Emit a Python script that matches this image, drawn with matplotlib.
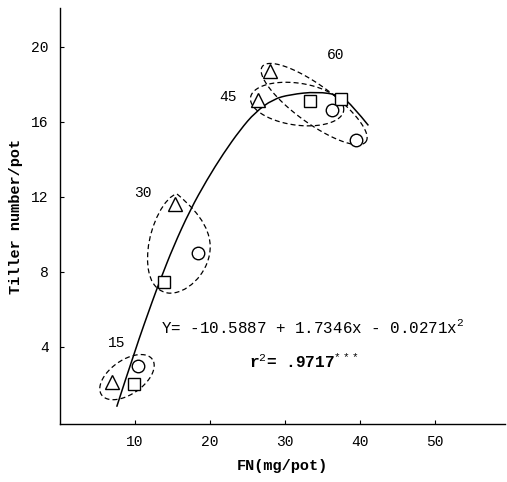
import matplotlib
matplotlib.use("Agg")
import matplotlib.pyplot as plt
from matplotlib.path import Path
from matplotlib.patches import PathPatch
import numpy as np

plt.rcParams['font.family'] = ['Liberation Mono', 'DejaVu Sans Mono']
plt.rcParams['mathtext.fontset'] = 'custom'
plt.rcParams['mathtext.rm'] = 'Liberation Mono'
plt.rcParams['mathtext.it'] = 'Liberation Mono'
plt.rcParams['mathtext.bf'] = 'Liberation Mono:bold'

# Data (FN mg/pot, tiller number/pot)
tri_x = [6.9, 15.3, 26.4, 28.0]
tri_y = [2.1, 11.6, 17.15, 18.7]
sq_x = [9.8, 13.8, 33.3, 37.4]
sq_y = [2.0, 7.45, 17.1, 17.2]
circ_x = [10.4, 18.4, 36.3, 39.5]
circ_y = [3.0, 9.0, 16.65, 15.05]

# fitted curve
curve_x = [7.56, 10.0, 12.44, 13.4, 15.1, 17.33, 19.56, 21.78, 24.0, 26.0, 28.4, 30.7, 34.2, 37.3, 39.1, 41.1]
curve_y = [0.80, 3.82, 6.58, 7.6, 9.33, 11.28, 12.89, 14.31, 15.56, 16.5, 17.2, 17.45, 17.6, 17.42, 16.8, 15.8]

group_labels = ['15', '30', '45', '60']
label_x = [7.56, 11.1, 22.4, 36.7]
label_y = [4.18, 12.2, 17.33, 19.56]

xticks = [10, 20, 30, 40, 50]
yticks = [4, 8, 12, 16, 20]

fig = plt.figure(figsize=(5.07, 4.82), dpi=100)
ax = fig.add_axes([0.1183, 0.1203, 0.8777, 0.863])
ax.set_xlim(0, 59.3)
ax.set_ylim(-0.12, 22.06)

# pixel scale of reference (px per data unit)
SX, SY = 7.5, 18.75
DASH = (0, (4, 2.5))

def px2d(px, py):
    return ((px - 60) / SX, (421.7 - py) / SY)

def dashed_ellipse(cx, cy, a, b, ang):
    t = np.linspace(0, 2 * np.pi, 200)
    r = np.deg2rad(ang)
    dx = a * np.cos(t) * np.cos(r) - b * np.sin(t) * np.sin(r)
    dy = a * np.cos(t) * np.sin(r) + b * np.sin(t) * np.cos(r)
    ax.plot(cx + dx / SX, cy + dy / SY, ls=DASH, color='black', lw=0.9)

dashed_ellipse(8.93, 2.38, 31, 17, 35)
dashed_ellipse(31.6, 16.94, 47, 21, -8)
dashed_ellipse(33.87, 16.94, 64, 19, -36)

# teardrop around the 30 group
pts_px = [(177, 194), (190, 205), (212, 225), (210, 250),
          (208, 275), (185, 295), (168, 293),
          (150, 290), (146, 270), (148, 250),
          (150, 225), (165, 196), (177, 194)]
verts = [px2d(*p) for p in pts_px]
codes = [Path.MOVETO] + [Path.CURVE4] * 12
ax.add_patch(PathPatch(Path(verts, codes), fill=False, ls=DASH, lw=0.9, color='black'))

# smooth rendering of the read curve (quadratic Bezier through midpoints)
cv = list(zip(curve_x, curve_y))
pverts = [cv[0]]
pcodes = [Path.MOVETO]
for i in range(1, len(cv) - 1):
    mid = ((cv[i][0] + cv[i + 1][0]) / 2, (cv[i][1] + cv[i + 1][1]) / 2)
    if i == len(cv) - 2:
        mid = cv[-1]
    pverts += [cv[i], mid]
    pcodes += [Path.CURVE3, Path.CURVE3]
ax.add_patch(PathPatch(Path(pverts, pcodes), fill=False, lw=1.1, color='black'))

mk = dict(ls='none', mfc='white', mec='black', mew=1.0, zorder=5)
ax.plot(tri_x, tri_y, marker='^', ms=10, **mk)
ax.plot(sq_x, sq_y, marker='s', ms=8.5, **mk)
ax.plot(circ_x, circ_y, marker='o', ms=9, **mk)

for lab, x, y in zip(group_labels, label_x, label_y):
    ax.text(x, y, lab, ha='center', va='center', fontsize=10.5)

ax.text(13.4, 5.07, 'Y= -10.5887 + 1.7346x - 0.0271x$^{2}$', ha='left', va='center', fontsize=11.4)
ax.text(25.2, 3.2, 'r$^{2}$= .9717$^{***}$', ha='left', va='center', fontsize=11.6, fontweight='semibold')

ax.set_xticks(xticks)
ax.set_yticks(yticks)
ax.tick_params(direction='in', length=3, width=0.8, labelsize=10.5, pad=8)
for s in ['top', 'right']:
    ax.spines[s].set_visible(False)
for s in ['left', 'bottom']:
    ax.spines[s].set_linewidth(1.0)

ax.set_xlabel('FN(mg/pot)', fontsize=11, fontweight='bold', labelpad=7)
ax.set_ylabel('Tiller number/pot', fontsize=11, fontweight='bold', labelpad=6)

fig.savefig('out.png', dpi=100)
